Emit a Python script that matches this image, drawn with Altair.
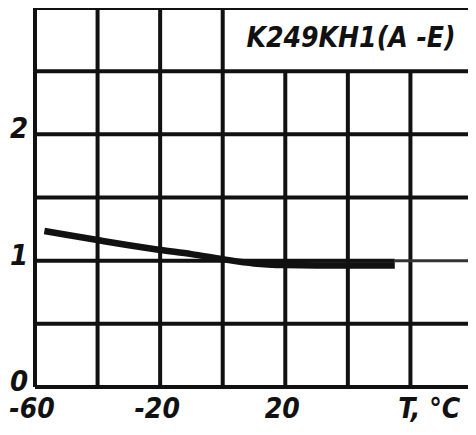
import altair as alt
import pandas as pd

# curve
temps = [-57, -50, -40, -30, -20, -10, 0, 10, 20, 30, 40, 50, 55]
values = [1.235, 1.205, 1.163, 1.122, 1.085, 1.052, 1.012, 0.978, 0.965, 0.962, 0.962, 0.962, 0.962]
tail_t = [55, 80]
tail_v = [1.0, 1.0]

x_ticks = [-60, -20, 20]
y_ticks = [0, 1, 2]
x_title = "T,  °C"
label_text = "K249KH1(A -E)"

# grid
h_grid = [0.5, 1.0, 1.5, 2.0, 2.5]
v_full = [-60, -40, -20, 0, 80]
v_short = [20, 40, 60]

FONT = "DejaVu Sans Condensed, Liberation Sans Narrow, DejaVu Sans"
INK = "#111111"

xs = alt.Scale(domain=[-60, 80], nice=False, zero=False)
ys = alt.Scale(domain=[0, 3], nice=False, zero=False)

hdf = pd.DataFrame({"y": [0.0] + h_grid + [3.0],
                    "x": [-60] * (len(h_grid) + 2),
                    "x2": [80] * (len(h_grid) + 2)})
hdf.loc[hdf["y"] == 1.0, "x2"] = 55
vdf = pd.DataFrame({"x": v_full + v_short,
                    "y": [0] * (len(v_full) + len(v_short)),
                    "y2": [3] * len(v_full) + [2.5] * len(v_short)})

hrules = alt.Chart(hdf).mark_rule(color=INK, strokeWidth=4).encode(
    x=alt.X("x:Q", scale=xs, axis=None), x2="x2:Q",
    y=alt.Y("y:Q", scale=ys, axis=None))
vrules = alt.Chart(vdf).mark_rule(color=INK, strokeWidth=4).encode(
    x=alt.X("x:Q", scale=xs, axis=None),
    y=alt.Y("y:Q", scale=ys, axis=None), y2="y2:Q")

curve = alt.Chart(pd.DataFrame({"t": temps, "v": values})).mark_line(
    color=INK, strokeWidth=6.5, strokeCap="butt", interpolate="monotone").encode(
    x=alt.X("t:Q", scale=xs, axis=None), y=alt.Y("v:Q", scale=ys, axis=None))

tail = alt.Chart(pd.DataFrame({"t": tail_t, "v": tail_v})).mark_line(
    color="#333333", strokeWidth=3).encode(
    x=alt.X("t:Q", scale=xs, axis=None), y=alt.Y("v:Q", scale=ys, axis=None))

xl = alt.Chart(pd.DataFrame({"x": x_ticks, "t": [str(v) for v in x_ticks], "y": [-0.185] * 3})).mark_text(
    font=FONT, fontSize=28, fontStyle="italic", fontWeight="bold", color=INK,
    baseline="middle", align="center", dx=-3).encode(
    x=alt.X("x:Q", scale=xs, axis=None), y=alt.Y("y:Q", scale=ys, axis=None), text="t:N")

yl = alt.Chart(pd.DataFrame({"y": y_ticks, "t": [str(v) for v in y_ticks], "x": [-60] * 3})).mark_text(
    font=FONT, fontSize=29, fontStyle="italic", fontWeight="bold", color=INK,
    baseline="middle", align="center", dx=-16, dy=-5).encode(
    x=alt.X("x:Q", scale=xs, axis=None), y=alt.Y("y:Q", scale=ys, axis=None), text="t:N")

xt = alt.Chart(pd.DataFrame({"x": [66], "y": [-0.185], "t": [x_title]})).mark_text(
    font=FONT, fontSize=28, fontStyle="italic", fontWeight="bold", color=INK,
    baseline="middle", align="center").encode(
    x=alt.X("x:Q", scale=xs, axis=None), y=alt.Y("y:Q", scale=ys, axis=None), text="t:N")

lab = alt.Chart(pd.DataFrame({"x": [41], "y": [2.755], "t": [label_text]})).mark_text(
    font=FONT, fontSize=28, fontStyle="italic", fontWeight="bold", color=INK,
    baseline="middle", align="center").encode(
    x=alt.X("x:Q", scale=xs, axis=None), y=alt.Y("y:Q", scale=ys, axis=None), text="t:N")

chart = alt.layer(hrules, vrules, curve, tail, xl, yl, xt, lab).properties(
    width=438, height=379,
    autosize=alt.AutoSizeParams(type="none"),
    padding={"left": 27, "top": 0, "right": -5, "bottom": 38},
).configure_view(stroke=None).configure(background="white")

chart.save("out.html", embed_options={"renderer": "svg", "actions": False})
